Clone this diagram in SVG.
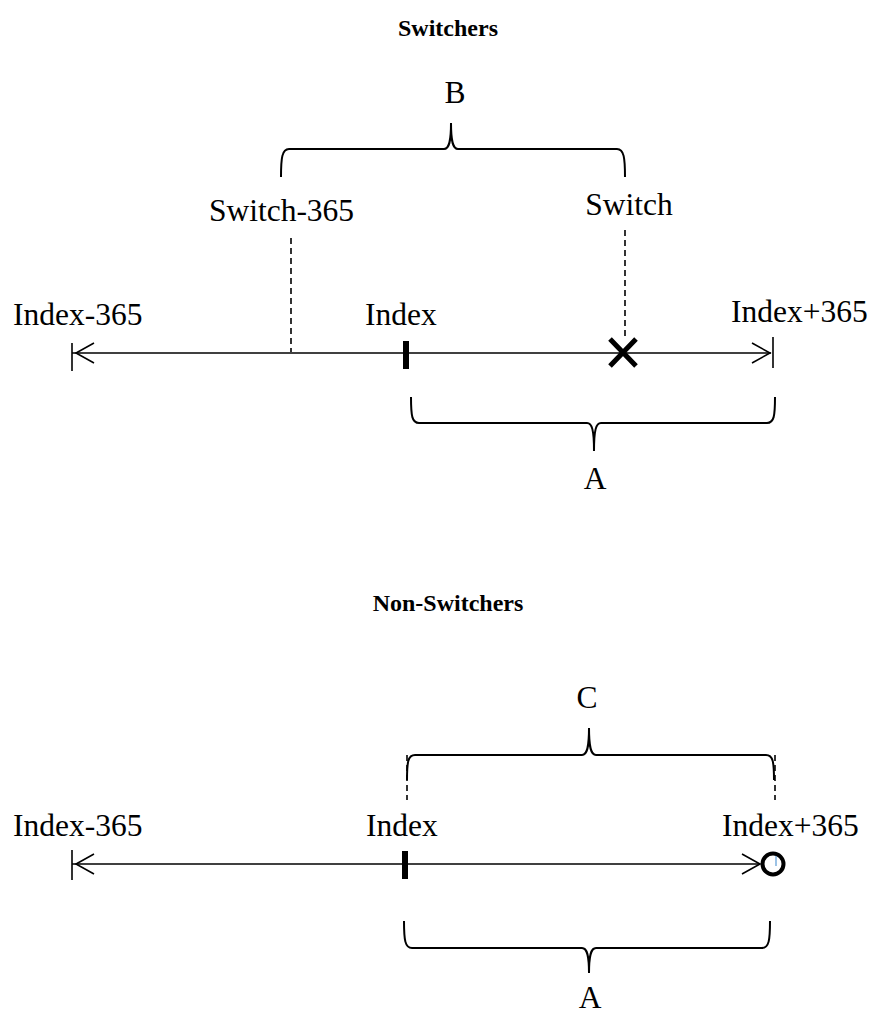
<svg xmlns="http://www.w3.org/2000/svg" width="871" height="1015" viewBox="0 0 871 1015">
<style>
text{font-family:"Liberation Serif","Times New Roman",serif;fill:#000}
.lbl{font-size:31.5px}
.ttl{font-size:24px;font-weight:bold}
.line{stroke:#000;stroke-width:1.6;fill:none}
.dash{stroke:#000;stroke-width:1.6;stroke-dasharray:6 4;fill:none}
.brace{stroke:#000;stroke-width:2;fill:none}
.head{stroke:#000;stroke-width:1.6;fill:none}
</style>
<rect width="871" height="1015" fill="#fff"/>
<g id="title-switchers"><text class="ttl" x="448" y="36" text-anchor="middle">Switchers</text></g>
<g id="brace-B">
<path class="brace" d="M281 177 C281 158 282 149 289 149 L444 149 C449 149 451 142 451 123 C451 142 453 149 458 149 L617 149 C624 149 625 158 625 177"/>
<text class="lbl" x="455" y="103" text-anchor="middle">B</text>
</g>
<g id="switch-365"><text class="lbl" x="281.5" y="221" text-anchor="middle">Switch-365</text></g>
<g id="switch"><text class="lbl" x="629" y="215" text-anchor="middle">Switch</text></g>
<g id="top-labels">
<text class="lbl" x="13" y="325">Index-365</text>
<text class="lbl" x="365" y="325">Index</text>
<text class="lbl" x="731" y="322">Index+365</text>
</g>
<g id="connectors">
<line class="dash" x1="291" y1="238" x2="291" y2="352"/>
<line class="dash" x1="625" y1="230" x2="625" y2="338"/>
<line class="line" x1="72" y1="353" x2="771" y2="353"/>
<line class="line" x1="72" y1="343" x2="72" y2="371"/>
<line class="line" x1="773" y1="337" x2="773" y2="368"/>
<polyline class="head" points="94,343 76,353 94,363"/>
<polyline class="head" points="752,343 770,353 752,363"/>
<line class="dash" x1="407" y1="755" x2="407" y2="800"/>
<line class="dash" x1="775" y1="755" x2="775" y2="800"/>
<line class="line" x1="72" y1="864" x2="760" y2="864"/>
<line class="line" x1="72" y1="850" x2="72" y2="880"/>
<polyline class="head" points="94,854 76,864 94,874"/>
<polyline class="head" points="742,854 760,864 742,874"/>
</g>
<g id="index-tick-top"><rect x="403" y="341" width="6" height="28" fill="#000"/></g>
<g id="switch-x">
<path d="M610 339 L636 366 M636 339 L610 366" stroke="#000" stroke-width="5" fill="none"/>
</g>
<g id="brace-A-top">
<path class="brace" d="M411 397 C411 416 412 423 419 423 L587 423 C592 423 594 430 594 451 C594 430 596 423 601 423 L767 423 C774 423 775 416 775 397"/>
<text class="lbl" x="595" y="489" text-anchor="middle">A</text>
</g>
<g id="title-nonswitchers"><text class="ttl" x="448" y="611" text-anchor="middle">Non-Switchers</text></g>
<g id="brace-C">
<path class="brace" d="M407 780 C407 762 408 755 415 755 L582 755 C587 755 589 748 589 728 C589 748 591 755 596 755 L766 755 C773 755 774 762 774 780"/>
<text class="lbl" x="587" y="708" text-anchor="middle">C</text>
</g>
<g id="bottom-labels">
<text class="lbl" x="13" y="836">Index-365</text>
<text class="lbl" x="366" y="836">Index</text>
<text class="lbl" x="722" y="836">Index+365</text>
</g>
<g id="index-tick-bottom"><rect x="402" y="851" width="6" height="28" fill="#000"/></g>
<g id="circle-end">
<line x1="776" y1="852" x2="776" y2="866" stroke="#5b9bd5" stroke-width="1.2"/>
<circle cx="773" cy="864" r="10.5" stroke="#000" stroke-width="4" fill="none"/>
</g>
<g id="brace-A-bottom">
<path class="brace" d="M404 921 C404 940 405 948 412 948 L582 948 C587 948 589 955 589 973 C589 955 591 948 596 948 L762 948 C769 948 770 940 770 921"/>
<text class="lbl" x="590" y="1008" text-anchor="middle">A</text>
</g>
</svg>
